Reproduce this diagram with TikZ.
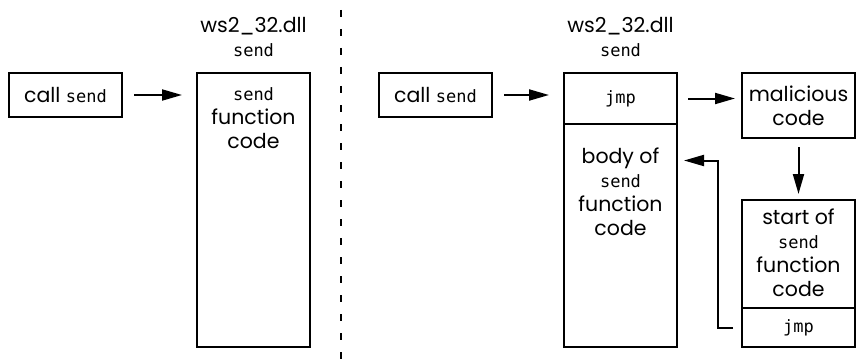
\documentclass[tikz,border=0pt]{standalone}
\usepackage{fontspec}
\setmainfont{Poppins}
\newfontfamily\codefont{DejaVu Sans Mono}
\newcommand{\cf}[1]{{\codefont\fontsize{17}{24}\selectfont #1}}
\usetikzlibrary{positioning,arrows.meta}

\begin{document}
\begin{tikzpicture}[
    x=1pt, y=-1pt,
    font=\fontsize{20.5}{24}\selectfont,
    box/.style={draw, line width=2.1pt, outer sep=0pt, minimum width=113pt, inner sep=0pt, align=center},
    inlabel/.style={align=center, anchor=north},
    arrow/.style={-{Triangle[length=20pt,width=11pt]}, line width=2pt},
    divider/.style={line width=2pt, dash pattern=on 7pt off 12pt}
]
\useasboundingbox (0,0) rectangle (857,361);

% original send
\node[box, minimum height=44pt, anchor=north west] (calla) at (9,73) {call \cf{send}};
\node[box, minimum height=274pt, anchor=north west,
      label={[inlabel, yshift=-11pt]north:\cf{send}\\function\\code}] (sendfn) at (197,73) {};
\node[above=13pt of sendfn, align=center] (dlla) {ws2\_32.dll\\\cf{send}};
\draw[arrow, shorten <=12pt, shorten >=15pt] (calla.east) -- (calla.east -| sendfn.west);

\draw[divider] (341,10) -- (341,361);

% hooked send
\node[box, minimum height=44pt, anchor=north west] (callb) at (379,73) {call \cf{send}};
\node[box, minimum height=51pt, anchor=north west] (jmpa) at (564,73) {\cf{jmp}};
\node[box, minimum height=223pt, below=0pt of jmpa,
      label={[inlabel, yshift=-20pt]north:body of\\\cf{send}\\function\\code}] (body) {};
\node[above=13pt of jmpa, align=center] (dllb) {ws2\_32.dll\\\cf{send}};
\node[box, minimum height=65pt, anchor=north west] (evil) at (742,73) {malicious\\code};
\node[box, minimum height=108pt, anchor=north west,
      label={[inlabel, yshift=-5pt]north:start of\\\cf{send}\\function\\code}] (start) at (742,200) {};
\node[box, minimum height=39pt, below=0pt of start] (jmpb) {\cf{jmp}};

\draw[arrow, shorten <=12pt, shorten >=15pt] (callb.east) -- (callb.east -| jmpa.west);
\draw[arrow, shorten <=11pt, shorten >=7pt] (jmpa.east) -- (jmpa.east -| evil.west);
\draw[arrow, shorten <=9pt, shorten >=6pt] (evil.south) -- (start.north);
\draw[arrow, shorten <=9pt, shorten >=7pt] (jmpb.west) -- ++(-24,0) |- ([yshift=75pt]body.east);
\end{tikzpicture}
\end{document}
